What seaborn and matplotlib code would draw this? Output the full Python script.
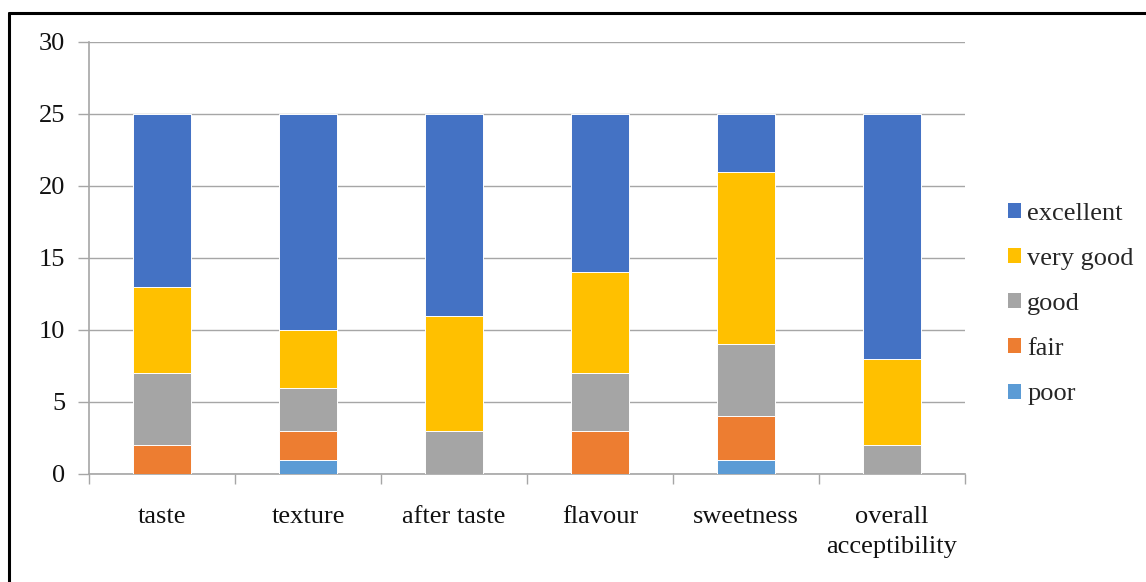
import matplotlib
matplotlib.use("Agg")
import matplotlib.pyplot as plt
from matplotlib.patches import Patch
from matplotlib.lines import Line2D
import numpy as np
import pandas as pd
import seaborn as sns

# Sensory evaluation scores (number of panelists per rating)
attributes = ["taste", "texture", "after taste", "flavour", "sweetness", "overall\nacceptibility"]
ratings = ["poor", "fair", "good", "very good", "excellent"]
poor = [0, 1, 0, 0, 1, 0]
fair = [2, 2, 0, 3, 3, 0]
good = [5, 3, 3, 4, 5, 2]
very_good = [6, 4, 8, 7, 12, 6]
excellent = [12, 15, 14, 11, 4, 17]

colors = {
    "poor": "#5B9BD5",
    "fair": "#ED7D31",
    "good": "#A5A5A5",
    "very good": "#FFC000",
    "excellent": "#4472C4",
}

sns.set_theme(style="white")
plt.rcParams["font.family"] = ["Liberation Serif", "DejaVu Serif"]
FS = 19

series = [poor, fair, good, very_good, excellent]
cum = np.cumsum(np.array(series), axis=0)
df = pd.DataFrame({"attribute": attributes})
for name, c in zip(ratings, cum):
    df[name] = c

fig = plt.figure(figsize=(11.46, 5.82), dpi=100)
ax = fig.add_axes([89 / 1146, 1 - 474 / 582, (965 - 89) / 1146, (474 - 42) / 582])

# Stacked bars: draw cumulative totals from the top layer down
for name in reversed(ratings):
    sns.barplot(data=df, x="attribute", y=name, color=colors[name], width=0.4,
                edgecolor="white", linewidth=0.7, saturation=1, ax=ax, zorder=3)

grid_c = "#A6A6A6"
ax.set_xlim(-0.5, len(attributes) - 0.5)
ax.set_ylim(0, 30)
ax.set_yticks(range(0, 31, 5))
ax.yaxis.grid(True, color=grid_c, linewidth=1.0, zorder=0)
ax.set_axisbelow(True)
ax.set_xlabel("")
ax.set_ylabel("")
for s in ["top", "right"]:
    ax.spines[s].set_visible(False)
for s in ["left", "bottom"]:
    ax.spines[s].set_color(grid_c)
    ax.spines[s].set_linewidth(1.2)

ax.set_xticks(range(len(attributes)))
ax.set_xticklabels(attributes, fontsize=FS, color="#111111", linespacing=1.5)
ax.set_xticks(np.arange(-0.5, len(attributes), 1.0), minor=True)
ax.tick_params(axis="x", which="major", length=0, pad=23)
ax.tick_params(axis="x", which="minor", length=7, width=1.0, color=grid_c, direction="out", bottom=True)
ax.tick_params(axis="y", which="major", length=8, width=1.0, color=grid_c, direction="out",
               left=True, pad=9, labelsize=FS, labelcolor="#111111")

handles = [Patch(facecolor=colors[n], edgecolor="none", label=n) for n in reversed(ratings)]
fig.legend(handles=handles, loc="center left", bbox_to_anchor=(997 / 1146, 1 - 304 / 582),
           frameon=False, fontsize=FS, handlelength=0.5, handleheight=0.5,
           handletextpad=0.25, labelspacing=0.88, borderaxespad=0)

# Outer frame lines (top and left)
fig.add_artist(Line2D([9 / 1146, 1.0], [1 - 13 / 582, 1 - 13 / 582], color="black", linewidth=2.2,
                      transform=fig.transFigure))
fig.add_artist(Line2D([9 / 1146, 9 / 1146], [0, 1 - 13 / 582], color="black", linewidth=2.2,
                      transform=fig.transFigure))

fig.savefig("out.png", dpi=100)
